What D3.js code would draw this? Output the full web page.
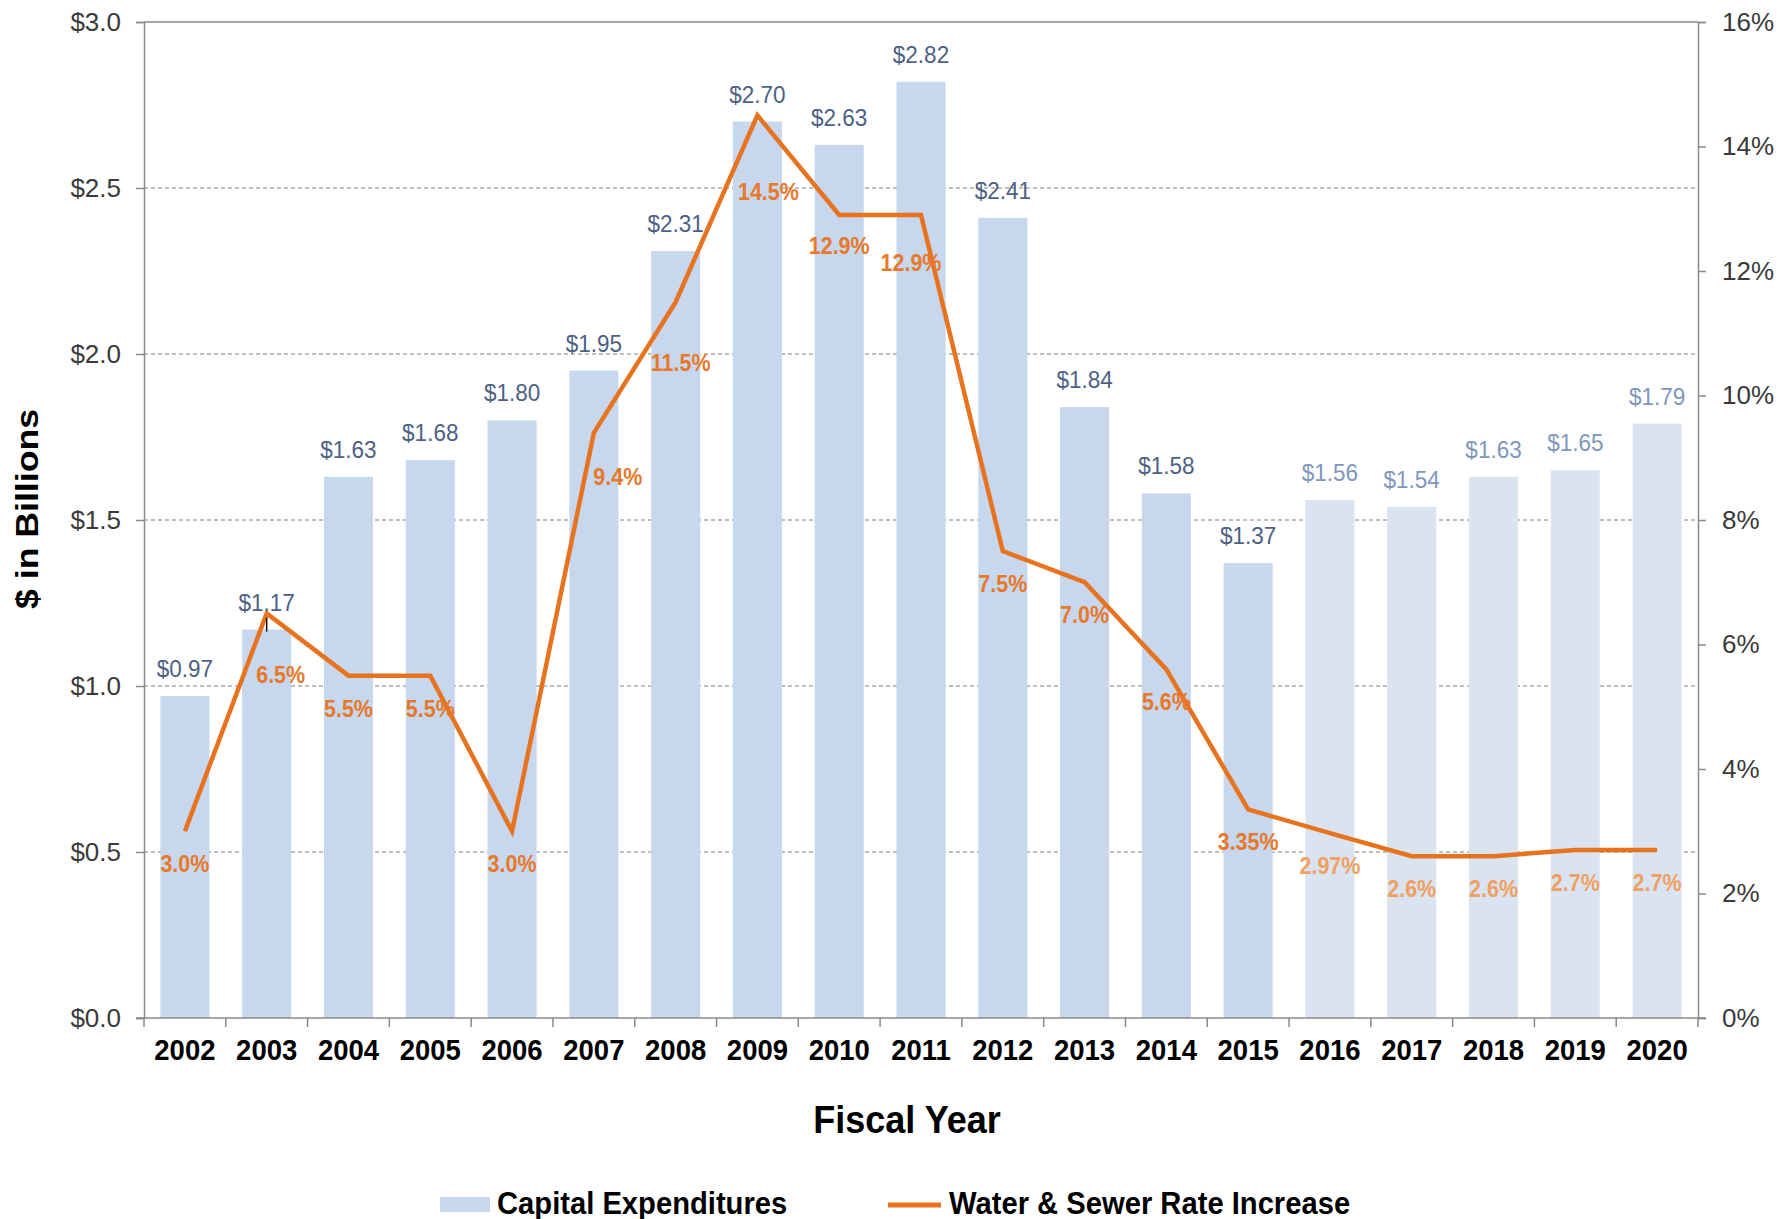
<!DOCTYPE html>
<html>
<head>
<meta charset="utf-8">
<script src="https://cdn.jsdelivr.net/npm/d3@7"></script>
<style>
  html, body { margin: 0; padding: 0; background: #ffffff; }
  svg { display: block; font-family: "Liberation Sans", Arial, sans-serif; }
</style>
</head>
<body>
<svg id="chart" width="1788" height="1219"></svg>
<script>
// ---------------- DATA ----------------
const years = ["2002","2003","2004","2005","2006","2007","2008","2009","2010","2011",
               "2012","2013","2014","2015","2016","2017","2018","2019","2020"];
const capitalExpenditures = [0.97, 1.17, 1.63, 1.68, 1.80, 1.95, 2.31, 2.70, 2.63, 2.82,
                             2.41, 1.84, 1.58, 1.37, 1.56, 1.54, 1.63, 1.65, 1.79];
const rateIncrease = [3.0, 6.5, 5.5, 5.5, 3.0, 9.4, 11.5, 14.5, 12.9, 12.9,
                      7.5, 7.0, 5.6, 3.35, 2.97, 2.6, 2.6, 2.7, 2.7];
const lastActualYear = "2015";           // later years are projections (lighter colours)
const leftTicks = [0, 0.5, 1.0, 1.5, 2.0, 2.5, 3.0];
const leftTickLabels = ["$0.0", "$0.5", "$1.0", "$1.5", "$2.0", "$2.5", "$3.0"];
const rightTicks = [0, 2, 4, 6, 8, 10, 12, 14, 16];
const rightTickLabels = ["0%", "2%", "4%", "6%", "8%", "10%", "12%", "14%", "16%"];
const seriesNames = ["Capital Expenditures", "Water & Sewer Rate Increase"];

// ---------------- LAYOUT ----------------
const svg = d3.select("#chart");
const plot = { left: 144, right: 1698, top: 22, bottom: 1018 };
const barColor = "#c6d7ee", barColorProj = "#dae4f1";
const dollarColor = "#4c6184", dollarColorProj = "#7e97ba";
const lineColor = "#e8731f", pctColor = "#e8782a", pctColorProj = "#f0a062";
const axisColor = "#8a8a8a";
const vStretch = 1.07;   // the original image is slightly stretched vertically

// manual nudges for a few rate labels (as placed in the original)
const labelNudge = { "2003": [14, 29], "2007": [24, 11], "2008": [5, 28],
                     "2009": [11, 44], "2010": [0, -2], "2011": [-10, 15] };

const x = d3.scaleBand().domain(years).range([plot.left, plot.right])
            .paddingInner(0.4).paddingOuter(0.2);
const yL = d3.scaleLinear().domain([0, 3]).range([plot.bottom, plot.top]);
const yR = d3.scaleLinear().domain([0, 16]).range([plot.bottom, plot.top]);
const cx = d => x(d) + x.bandwidth() / 2;
const isProj = y => +y > +lastActualYear;
const place = (px, py) => `translate(${px},${py}) scale(1,${vStretch})`;

const data = years.map((yr, i) => ({ yr, cap: capitalExpenditures[i], rate: rateIncrease[i] }));

// gridlines (dashed) behind bars
svg.append("g").selectAll("line")
  .data(leftTicks.filter(t => t > 0 && t < 3))
  .join("line")
  .attr("x1", plot.left).attr("x2", plot.right)
  .attr("y1", d => yL(d)).attr("y2", d => yL(d))
  .attr("stroke", "#7f7f7f").attr("stroke-width", 1)
  .attr("stroke-dasharray", "4,3");

// bars
svg.append("g").selectAll("rect")
  .data(data).join("rect")
  .attr("x", d => x(d.yr))
  .attr("width", x.bandwidth())
  .attr("y", d => yL(d.cap))
  .attr("height", d => yL(0) - yL(d.cap))
  .attr("fill", d => isProj(d.yr) ? barColorProj : barColor);

// top border
svg.append("line")
  .attr("x1", plot.left).attr("x2", plot.right)
  .attr("y1", plot.top).attr("y2", plot.top)
  .attr("stroke", axisColor).attr("stroke-width", 1.5);

// left axis
const leftAxis = d3.axisLeft(yL).tickValues(leftTicks)
  .tickFormat((d, i) => leftTickLabels[i]).tickSize(8).tickPadding(15);
const gL = svg.append("g").attr("transform", `translate(${plot.left},0)`).call(leftAxis);
gL.select(".domain").attr("stroke", axisColor).attr("stroke-width", 1.5);
gL.selectAll(".tick line").attr("stroke", axisColor).attr("stroke-width", 1.5);
gL.selectAll(".tick text").attr("font-size", 26).attr("fill", "#3a3a3a")
  .attr("font-family", "Liberation Sans, Arial, sans-serif");

// right axis
const rightAxis = d3.axisRight(yR).tickValues(rightTicks)
  .tickFormat((d, i) => rightTickLabels[i]).tickSize(8).tickPadding(16);
const gR = svg.append("g").attr("transform", `translate(${plot.right},0)`).call(rightAxis);
gR.select(".domain").attr("stroke", axisColor).attr("stroke-width", 1.5);
gR.selectAll(".tick line").attr("stroke", axisColor).attr("stroke-width", 1.5);
gR.selectAll(".tick text").attr("font-size", 26).attr("fill", "#3a3a3a")
  .attr("font-family", "Liberation Sans, Arial, sans-serif");

// bottom axis: line + ticks at band boundaries + year labels
const gB = svg.append("g");
gB.append("line")
  .attr("x1", plot.left - 8).attr("x2", plot.right + 8)
  .attr("y1", plot.bottom).attr("y2", plot.bottom)
  .attr("stroke", axisColor).attr("stroke-width", 1.5);
const boundaries = years.map(yr => x(yr) - x.step() * x.paddingInner() / 2)
  .concat([plot.right]);
gB.selectAll("line.tk").data(boundaries).join("line").attr("class", "tk")
  .attr("x1", d => d).attr("x2", d => d)
  .attr("y1", plot.bottom).attr("y2", plot.bottom + 9)
  .attr("stroke", axisColor).attr("stroke-width", 1.5);
gB.selectAll("text").data(years).join("text")
  .attr("transform", d => place(cx(d), 1060))
  .attr("text-anchor", "middle")
  .attr("font-size", 27.5).attr("font-weight", "bold").attr("fill", "#000")
  .text(d => d);

// rate line
const line = d3.line().x(d => cx(d.yr)).y(d => yR(d.rate));
svg.append("path").datum(data)
  .attr("d", line).attr("fill", "none")
  .attr("stroke", lineColor).attr("stroke-width", 4.5)
  .attr("stroke-linejoin", "miter").attr("stroke-miterlimit", 10);

// leader tick for 2003 capex label
svg.append("line")
  .attr("x1", cx("2003")).attr("x2", cx("2003"))
  .attr("y1", yL(capitalExpenditures[1]) - 12).attr("y2", yL(capitalExpenditures[1]) + 2)
  .attr("stroke", "#111").attr("stroke-width", 1.5);

// dollar labels
svg.append("g").selectAll("text").data(data).join("text")
  .attr("transform", d => place(cx(d.yr), yL(d.cap) - 19))
  .attr("text-anchor", "middle").attr("font-size", 22.5)
  .attr("fill", d => isProj(d.yr) ? dollarColorProj : dollarColor)
  .text(d => "$" + d.cap.toFixed(2));

// rate labels
const fmtPct = v => (Math.abs(v * 10 - Math.round(v * 10)) < 1e-9 ? v.toFixed(1) : v.toFixed(2)) + "%";
svg.append("g").selectAll("text").data(data).join("text")
  .attr("transform", d => place(
      cx(d.yr) + (labelNudge[d.yr] ? labelNudge[d.yr][0] : 0),
      yR(d.rate) + 41 + (labelNudge[d.yr] ? labelNudge[d.yr][1] : 0)))
  .attr("text-anchor", "middle").attr("font-size", 21.5).attr("font-weight", "bold")
  .attr("fill", d => isProj(d.yr) ? pctColorProj : pctColor)
  .text(d => fmtPct(d.rate));

// axis titles
svg.append("text")
  .attr("transform", "translate(37.5,509) rotate(-90) scale(1.15,1)")
  .attr("text-anchor", "middle").attr("font-size", 31).attr("font-weight", "bold")
  .attr("fill", "#000").text("$ in Billions");
svg.append("text")
  .attr("transform", place(907, 1133)).attr("text-anchor", "middle")
  .attr("font-size", 36).attr("font-weight", "bold").attr("fill", "#000")
  .text("Fiscal Year");

// legend
const lg = svg.append("g");
lg.append("rect").attr("x", 440).attr("y", 1197).attr("width", 50).attr("height", 15)
  .attr("fill", barColor);
lg.append("text").attr("transform", place(497, 1214))
  .attr("font-size", 29.2).attr("font-weight", "bold").attr("fill", "#000")
  .text(seriesNames[0]);
lg.append("line").attr("x1", 888).attr("x2", 941).attr("y1", 1205).attr("y2", 1205)
  .attr("stroke", lineColor).attr("stroke-width", 5);
lg.append("text").attr("transform", place(949, 1214))
  .attr("font-size", 29.2).attr("font-weight", "bold").attr("fill", "#000")
  .text(seriesNames[1]);
</script>
</body>
</html>
